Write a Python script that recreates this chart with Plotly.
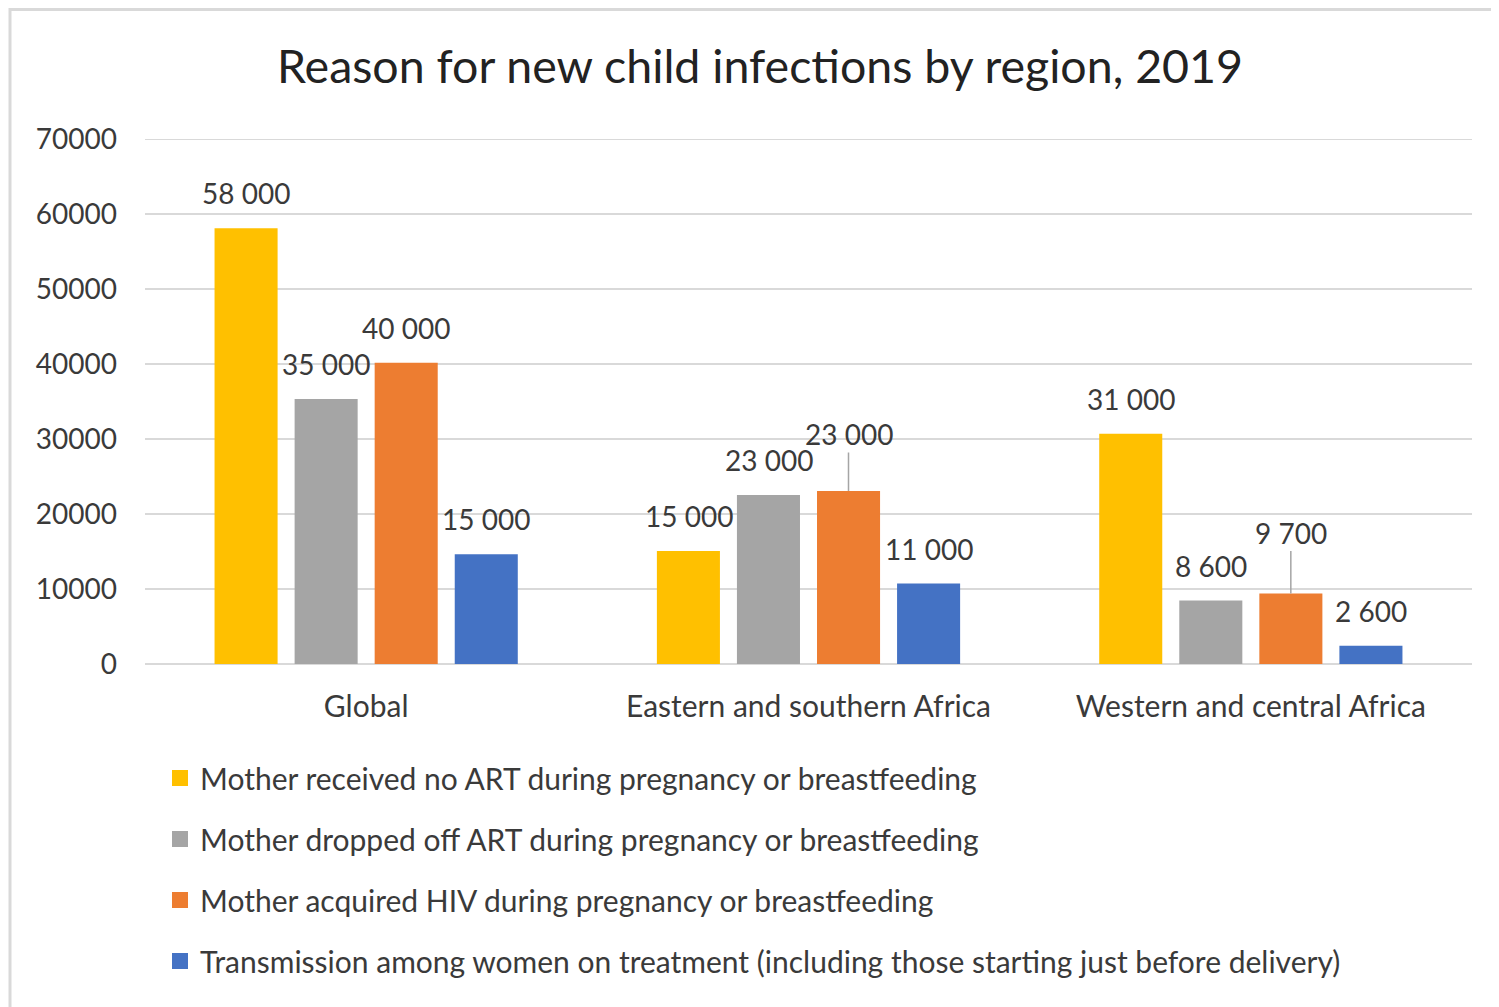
import plotly.graph_objects as go

regions = ["Global", "Eastern and southern Africa", "Western and central Africa"]

series_names = [
    "Mother received no ART during pregnancy or breastfeeding",
    "Mother dropped off ART during pregnancy or breastfeeding",
    "Mother acquired HIV during pregnancy or breastfeeding",
    "Transmission among women on treatment (including those starting just before delivery)",
]
colors = ["#FFC000", "#A5A5A5", "#ED7D31", "#4472C4"]

no_art = [58100, 15080, 30700]
dropped_off = [35340, 22530, 8460]
acquired = [40160, 23060, 9400]
on_treatment = [14630, 10720, 2450]

no_art_labels = ["58 000", "15 000", "31 000"]
dropped_off_labels = ["35 000", "23 000", "8 600"]
acquired_labels = ["40 000", "23 000", "9 700"]
on_treatment_labels = ["15 000", "11 000", "2 600"]

y_ticks = [0, 10000, 20000, 30000, 40000, 50000, 60000, 70000]

values = [no_art, dropped_off, acquired, on_treatment]
labels = [no_art_labels, dropped_off_labels, acquired_labels, on_treatment_labels]

FONT = "Lato"
TXT = "#3a3a3a"
W, H = 1499, 1007
OFF = 8  # page body margin

fig = go.Figure()
for name, col, vals in zip(series_names, colors, values):
    fig.add_trace(go.Bar(
        x=regions, y=vals, name=name, marker_color=col,
        marker_line_width=0, showlegend=False, hoverinfo="skip",
    ))
# legend entries with larger square swatches
for name, col in zip(series_names, colors):
    fig.add_trace(go.Scatter(
        x=[regions[0]], y=[None], mode="markers", name=name, legendgroup=name,
        marker=dict(symbol="square", size=16, color=col, line_width=0),
        hoverinfo="skip",
    ))

# data labels: offsets follow bar slots within each group
shifts = [-120, -40, 40, 120]
leader = {(2, 1): -57, (2, 2): -61}  # labels pulled away with a leader line
for i, (vals, labs) in enumerate(zip(values, labels)):
    for j, reg in enumerate(regions):
        if (i, j) in leader:
            fig.add_annotation(
                x=reg, y=vals[j], text=labs[j], xshift=shifts[i],
                showarrow=True, arrowhead=0, arrowwidth=1.5, arrowcolor="#A5A5A5",
                ax=0, ay=leader[(i, j)], standoff=0,
                font=dict(family=FONT, size=28, color=TXT),
            )
        else:
            fig.add_annotation(
                x=reg, y=vals[j], text=labs[j], xshift=shifts[i], yshift=35,
                showarrow=False, yanchor="middle",
                font=dict(family=FONT, size=28, color=TXT),
            )

# plot area in screen pixels: x 145..1472, y 139..664
ml, mt = 145 - OFF, 139 - OFF
mr, mb = W - (1472 - OFF), H - (664 - OFF)
pw, ph = W - ml - mr, H - mt - mb


def px(x):
    return (x - OFF - ml) / pw


def py(y):
    return (H - mb - (y - OFF)) / ph


# outer chart border
fig.add_shape(
    type="rect", xref="paper", yref="paper",
    x0=px(10), x1=px(1530), y0=py(1040), y1=py(9.5),
    line=dict(color="#D9D9D9", width=3), layer="below",
)
# top gridline at 70000
fig.add_shape(
    type="line", xref="paper", yref="y", x0=0, x1=1, y0=y_ticks[-1], y1=y_ticks[-1],
    line=dict(color="#D9D9D9", width=2), layer="below",
)

fig.update_layout(
    width=W, height=H,
    margin=dict(l=ml, r=mr, t=mt, b=mb),
    paper_bgcolor="white", plot_bgcolor="white",
    title=dict(
        text="Reason for new child infections by region, 2019",
        x=(760 - OFF) / W, xref="container", xanchor="center",
        y=1 - (67 - OFF) / H, yref="container", yanchor="middle",
        font=dict(family=FONT, size=46.5, color="#222222"),
    ),
    barmode="group", bargap=0.276, bargroupgap=0.2125,
    font=dict(family=FONT, size=28, color=TXT),
    showlegend=True,
    legend=dict(
        orientation="v", x=px(160), xanchor="left",
        y=py(752), yanchor="top",
        tracegroupgap=19, font=dict(family=FONT, size=30, color=TXT),
        itemclick=False, itemsizing="trace",
    ),
)
fig.update_xaxes(
    showgrid=False, showline=False, ticks="", ticklabelstandoff=22,
    tickfont=dict(family=FONT, size=30, color=TXT),
)
fig.update_yaxes(
    range=[0, 70000], tickvals=y_ticks, ticktext=[str(v) for v in y_ticks],
    showgrid=True, gridcolor="#D9D9D9", gridwidth=2,
    zeroline=True, zerolinecolor="#D9D9D9", zerolinewidth=2,
    showline=False, ticks="", ticklabelstandoff=27,
    tickfont=dict(family=FONT, size=28, color=TXT),
)

fig.write_html("out.html")
